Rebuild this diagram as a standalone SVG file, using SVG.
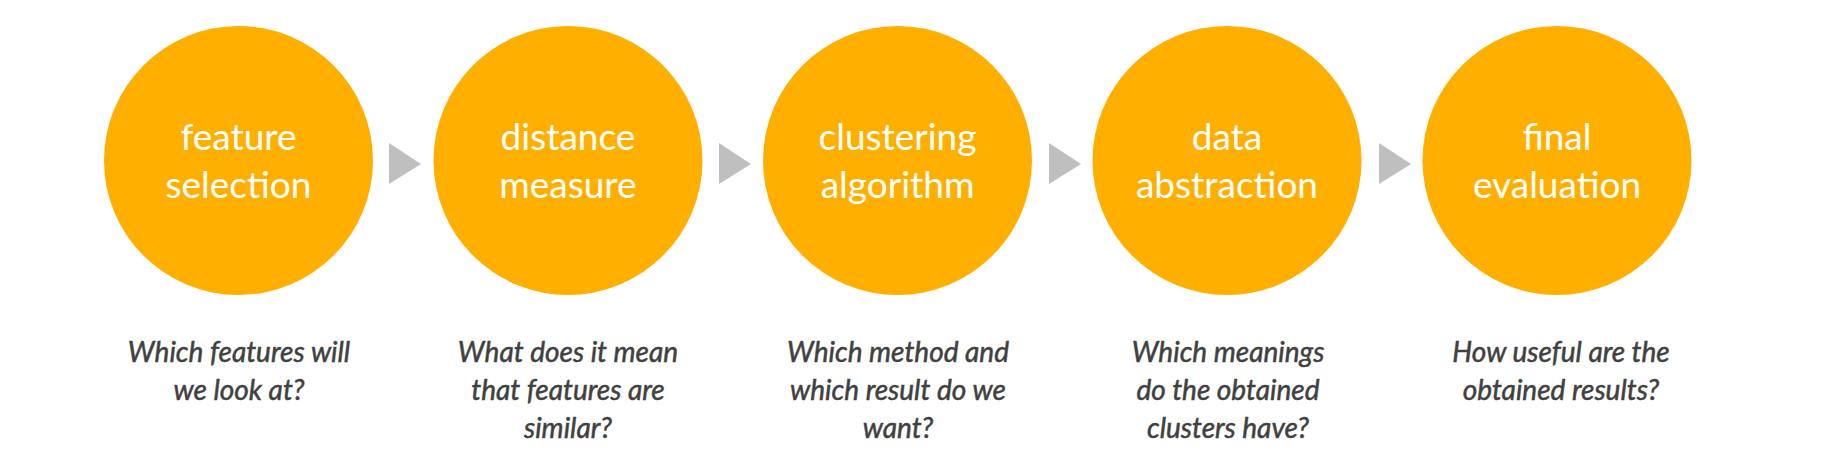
<svg xmlns="http://www.w3.org/2000/svg" width="1821" height="476" viewBox="0 0 1821 476">
<style>
.c{fill:#FFAF00}
.t{font-family:Lato,"Open Sans","Liberation Sans",sans-serif;font-size:37px;fill:#FFFFFF;text-anchor:middle}
.q{font-family:Lato,"Open Sans","Liberation Sans",sans-serif;font-size:28px;font-style:italic;fill:#404040;stroke:#404040;stroke-width:0.5px;text-anchor:middle}
.a{fill:#BFBFBF}
</style>
<rect width="1821" height="476" fill="#FFFFFF"/>
<g id="connectors">
<polygon class="a" points="389,143 421,164 389,184"/>
<polygon class="a" points="719,143 751,164 719,184"/>
<polygon class="a" points="1049,143 1081,164 1049,184"/>
<polygon class="a" points="1379,143 1411,164 1379,184"/>
</g>
<g id="node1">
<circle class="c" cx="238.5" cy="160.5" r="134.5"/>
<text class="t" x="238.5" y="150">feature</text>
<text class="t" x="238.5" y="198">selection</text>
<text class="q" x="239" y="362">Which features will</text>
<text class="q" x="239" y="400">we look at?</text>
</g>
<g id="node2">
<circle class="c" cx="568" cy="160.5" r="134.5"/>
<text class="t" x="568" y="150">distance</text>
<text class="t" x="568" y="198">measure</text>
<text class="q" x="568" y="362">What does it mean</text>
<text class="q" x="568" y="400">that features are</text>
<text class="q" x="568" y="438">similar?</text>
</g>
<g id="node3">
<circle class="c" cx="897.5" cy="160.5" r="134.5"/>
<text class="t" x="897.5" y="150">clustering</text>
<text class="t" x="897.5" y="198">algorithm</text>
<text class="q" x="898" y="362">Which method and</text>
<text class="q" x="898" y="400">which result do we</text>
<text class="q" x="898" y="438">want?</text>
</g>
<g id="node4">
<circle class="c" cx="1227" cy="160.5" r="134.5"/>
<text class="t" x="1227" y="150">data</text>
<text class="t" x="1227" y="198">abstraction</text>
<text class="q" x="1228" y="362">Which meanings</text>
<text class="q" x="1228" y="400">do the obtained</text>
<text class="q" x="1228" y="438">clusters have?</text>
</g>
<g id="node5">
<circle class="c" cx="1557" cy="160.5" r="134.5"/>
<text class="t" x="1557" y="150">final</text>
<text class="t" x="1557" y="198">evaluation</text>
<text class="q" x="1561" y="362">How useful are the</text>
<text class="q" x="1561" y="400">obtained results?</text>
</g>
</svg>
